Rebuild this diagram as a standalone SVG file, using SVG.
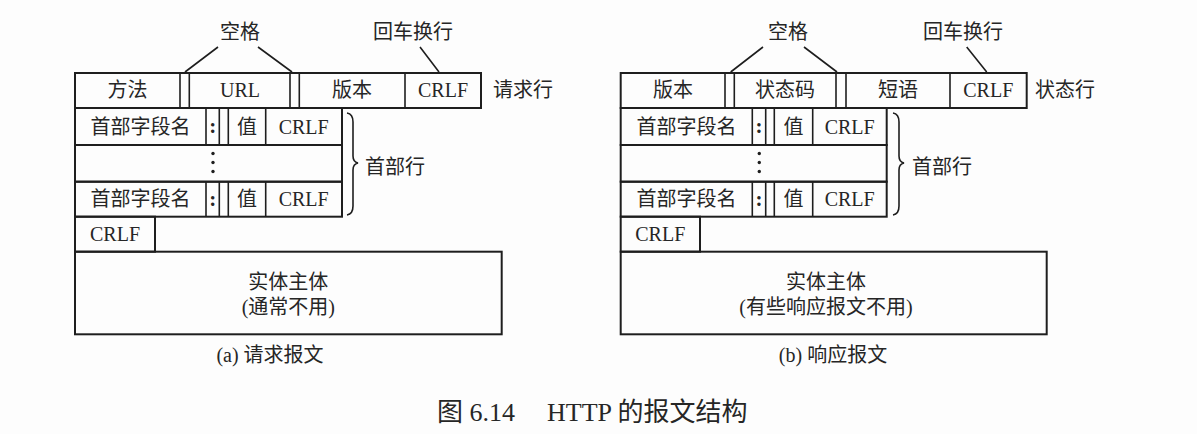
<svg xmlns="http://www.w3.org/2000/svg" width="1197" height="434" viewBox="0 0 1197 434">
<style>
.bg{fill:#fdfdfd}
.box{fill:none;stroke:#1e1e1e;stroke-width:2}
.div{stroke:#1e1e1e;stroke-width:1.6;fill:none}
.con{stroke:#1e1e1e;stroke-width:1.6;fill:none}
text{font-family:"Liberation Serif","Noto Sans CJK SC",serif;font-size:20px;fill:#262626}
.c{text-anchor:middle}
.col{font-weight:bold;font-size:21px}
.cap{font-size:26px}
.dot{fill:#1e1e1e}
</style>
<rect class="bg" x="0" y="0" width="1197" height="434"/>

<g id="request">
  <g id="req-line">
    <rect class="box" x="75" y="73" width="406" height="35"/>
    <path class="div" d="M180 73V108M189.3 73V108M290 73V108M299.3 73V108M405 73V108"/>
    <text class="c" x="127.5" y="97">方法</text>
    <text class="c" x="240" y="97">URL</text>
    <text class="c" x="352" y="97">版本</text>
    <text class="c" x="443" y="97">CRLF</text>
    <text x="493" y="97">请求行</text>
  </g>
  <g id="req-header1">
    <rect class="box" x="75" y="108" width="267" height="37"/>
    <path class="div" d="M206 108V145M219.3 108V145M228.3 108V145M265.7 108V145"/>
    <text class="c" x="140.5" y="133.5">首部字段名</text>
    <text class="c col" x="212.7" y="133">:</text>
    <text class="c" x="247" y="133.5">值</text>
    <text class="c" x="303.7" y="133.5">CRLF</text>
  </g>
  <g id="req-header-dots">
    <rect class="box" x="75" y="145" width="267" height="36.7"/>
    <circle class="dot" cx="213" cy="153.5" r="1.7"/>
    <circle class="dot" cx="213" cy="162.5" r="1.7"/>
    <circle class="dot" cx="213" cy="171.5" r="1.7"/>
  </g>
  <g id="req-header2">
    <rect class="box" x="75" y="181.7" width="267" height="35"/>
    <path class="div" d="M206 181.7V216.7M219.3 181.7V216.7M228.3 181.7V216.7M265.7 181.7V216.7"/>
    <text class="c" x="140.5" y="206">首部字段名</text>
    <text class="c col" x="212.7" y="205.5">:</text>
    <text class="c" x="247" y="206">值</text>
    <text class="c" x="303.7" y="206">CRLF</text>
  </g>
  <text x="365" y="174">首部行</text>
  <g id="req-crlf">
    <rect class="box" x="75" y="216.7" width="80" height="35"/>
    <text class="c" x="115" y="241">CRLF</text>
  </g>
  <g id="req-body">
    <rect class="box" x="75" y="251.7" width="426.7" height="82.6"/>
    <text class="c" x="288.3" y="288.5">实体主体</text>
    <text class="c" x="288.3" y="313.5">(通常不用)</text>
  </g>
  <text x="240" y="39" class="c">空格</text>
  <text x="413" y="39" class="c">回车换行</text>
  <text class="c" x="270" y="362">(a) 请求报文</text>
</g>

<g id="response">
  <g id="resp-line">
    <rect class="box" x="620.7" y="73" width="406" height="35"/>
    <path class="div" d="M725 73V108M734.3 73V108M836 73V108M846 73V108M950 73V108"/>
    <text class="c" x="673" y="97">版本</text>
    <text class="c" x="785" y="97">状态码</text>
    <text class="c" x="898" y="97">短语</text>
    <text class="c" x="988.3" y="97">CRLF</text>
    <text x="1035" y="97">状态行</text>
  </g>
  <g id="resp-header1">
    <rect class="box" x="620.7" y="108" width="266" height="37"/>
    <path class="div" d="M752.3 108V145M765.7 108V145M774.3 108V145M812.7 108V145"/>
    <text class="c" x="686.5" y="133.5">首部字段名</text>
    <text class="c col" x="759" y="133">:</text>
    <text class="c" x="793.5" y="133.5">值</text>
    <text class="c" x="849.7" y="133.5">CRLF</text>
  </g>
  <g id="resp-header-dots">
    <rect class="box" x="620.7" y="145" width="266" height="36.7"/>
    <circle class="dot" cx="759.3" cy="153.5" r="1.7"/>
    <circle class="dot" cx="759.3" cy="162.5" r="1.7"/>
    <circle class="dot" cx="759.3" cy="171.5" r="1.7"/>
  </g>
  <g id="resp-header2">
    <rect class="box" x="620.7" y="181.7" width="266" height="35"/>
    <path class="div" d="M752.3 181.7V216.7M765.7 181.7V216.7M774.3 181.7V216.7M812.7 181.7V216.7"/>
    <text class="c" x="686.5" y="206">首部字段名</text>
    <text class="c col" x="759" y="205.5">:</text>
    <text class="c" x="793.5" y="206">值</text>
    <text class="c" x="849.7" y="206">CRLF</text>
  </g>
  <text x="912" y="174">首部行</text>
  <g id="resp-crlf">
    <rect class="box" x="620.7" y="216.7" width="79.3" height="35"/>
    <text class="c" x="660.3" y="241">CRLF</text>
  </g>
  <g id="resp-body">
    <rect class="box" x="620.7" y="251.7" width="426" height="82.6"/>
    <text class="c" x="826" y="288.5">实体主体</text>
    <text class="c" x="826" y="313.5">(有些响应报文不用)</text>
  </g>
  <text x="788" y="39" class="c">空格</text>
  <text x="963" y="39" class="c">回车换行</text>
  <text class="c" x="833" y="362">(b) 响应报文</text>
</g>

<g id="connectors">
  <path class="con" d="M185 72L218 47M258 47L292 72M420 47L439 72"/>
  <path class="con" d="M730.7 72L763 47M804 47L837 72M966.7 47L986.7 72"/>
  <path class="con" d="M347 113Q353 114 353 122V156Q353 162 358 163Q353 164 353 170V206Q353 214 347 215"/>
  <path class="con" d="M893 113Q899 114 899 122V156Q899 162 904 163Q899 164 899 170V206Q899 214 893 215"/>
</g>

<text class="cap" x="437" y="421">图 6.14</text>
<text class="cap" x="547" y="421">HTTP 的报文结构</text>
</svg>
